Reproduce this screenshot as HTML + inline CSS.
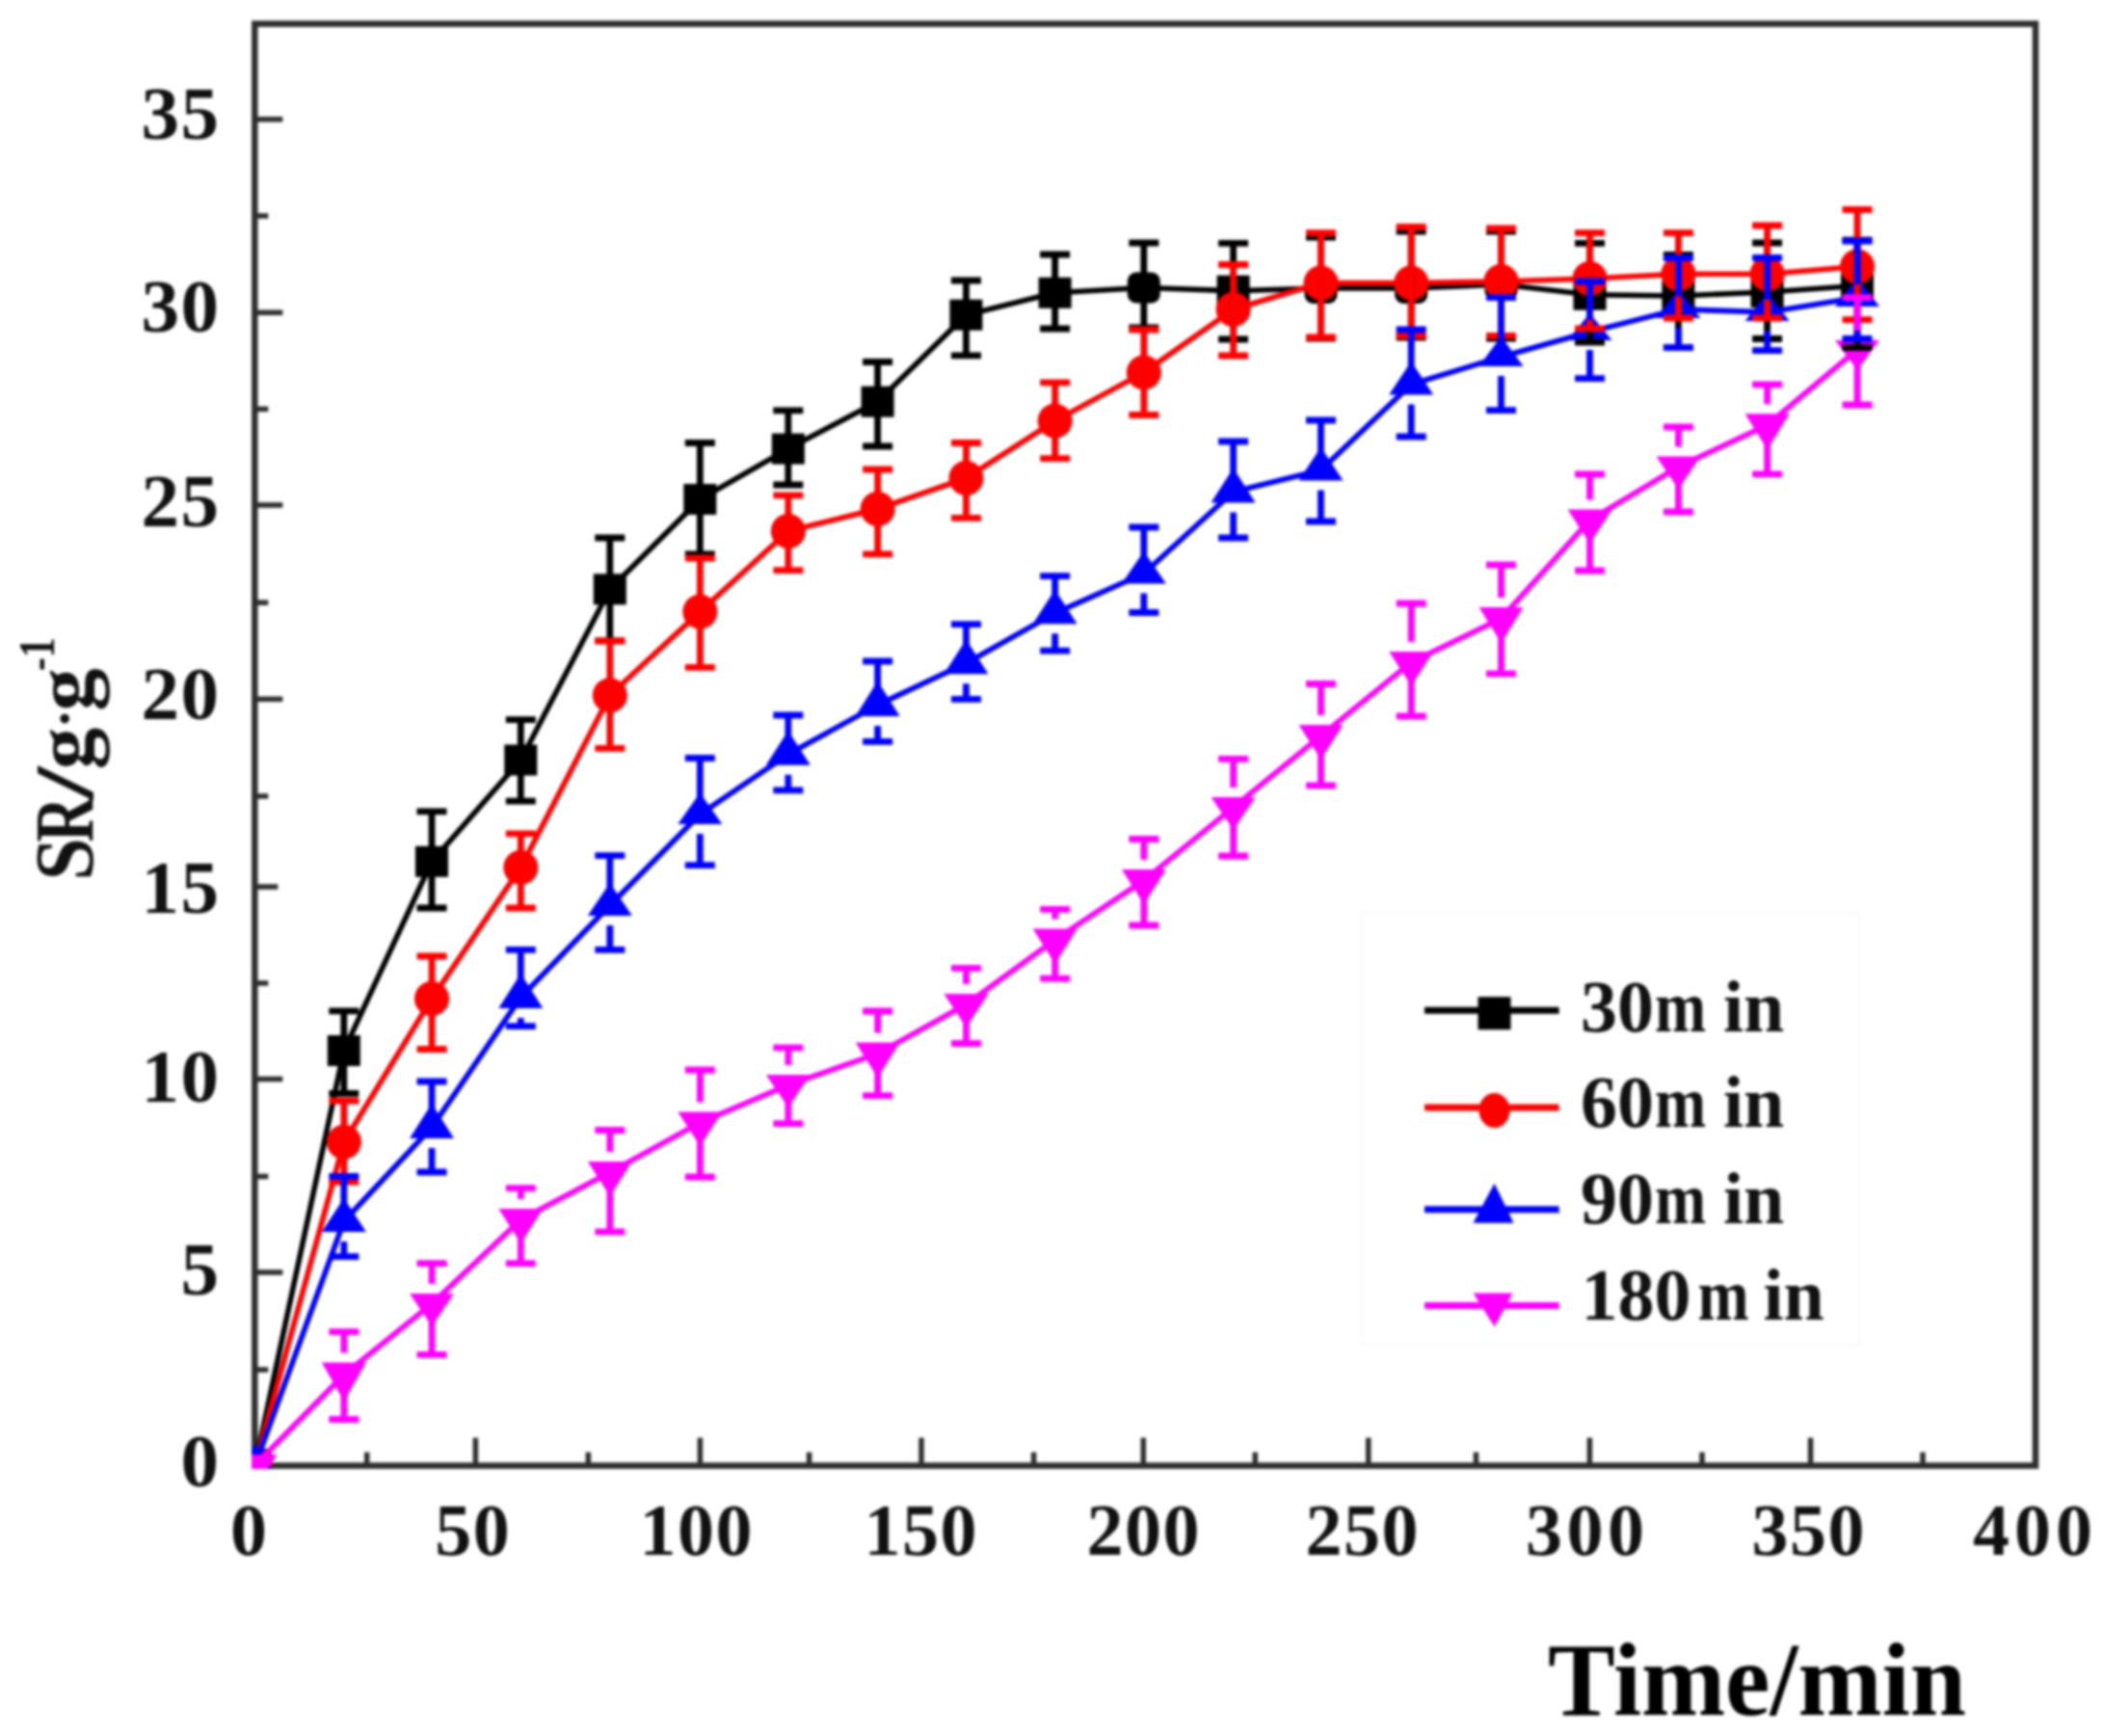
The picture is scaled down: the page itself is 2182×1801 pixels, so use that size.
<!DOCTYPE html>
<html><head><meta charset="utf-8"><title>chart</title>
<style>html,body{margin:0;padding:0;background:#fff}body{width:2182px;height:1801px;overflow:hidden}svg{display:block;filter:blur(1.7px)}</style>
</head><body>
<svg width="2182" height="1801" viewBox="0 0 2182 1801">
<rect width="2182" height="1801" fill="#fff"/>
<rect x="1413" y="947" width="516" height="448" fill="none" stroke="#f9f9f9" stroke-width="2"/>
<rect x="264.3" y="24.7" width="1847.7" height="1495.8999999999999" fill="none" stroke="#2e2e2e" stroke-width="6.5"/>
<line x1="380.7" y1="1520.6" x2="380.7" y2="1506.6" stroke="#2e2e2e" stroke-width="5.5"/>
<line x1="493.4" y1="1520.6" x2="493.4" y2="1491.6" stroke="#2e2e2e" stroke-width="5.5"/>
<line x1="610.4" y1="1520.6" x2="610.4" y2="1506.6" stroke="#2e2e2e" stroke-width="5.5"/>
<line x1="726.4" y1="1520.6" x2="726.4" y2="1491.6" stroke="#2e2e2e" stroke-width="5.5"/>
<line x1="839.6" y1="1520.6" x2="839.6" y2="1506.6" stroke="#2e2e2e" stroke-width="5.5"/>
<line x1="956" y1="1520.6" x2="956" y2="1491.6" stroke="#2e2e2e" stroke-width="5.5"/>
<line x1="1072.6" y1="1520.6" x2="1072.6" y2="1506.6" stroke="#2e2e2e" stroke-width="5.5"/>
<line x1="1186.3" y1="1520.6" x2="1186.3" y2="1491.6" stroke="#2e2e2e" stroke-width="5.5"/>
<line x1="1302.3" y1="1520.6" x2="1302.3" y2="1506.6" stroke="#2e2e2e" stroke-width="5.5"/>
<line x1="1419.8" y1="1520.6" x2="1419.8" y2="1491.6" stroke="#2e2e2e" stroke-width="5.5"/>
<line x1="1531.5" y1="1520.6" x2="1531.5" y2="1506.6" stroke="#2e2e2e" stroke-width="5.5"/>
<line x1="1649.4" y1="1520.6" x2="1649.4" y2="1491.6" stroke="#2e2e2e" stroke-width="5.5"/>
<line x1="1766" y1="1520.6" x2="1766" y2="1506.6" stroke="#2e2e2e" stroke-width="5.5"/>
<line x1="1878.6" y1="1520.6" x2="1878.6" y2="1491.6" stroke="#2e2e2e" stroke-width="5.5"/>
<line x1="1995" y1="1520.6" x2="1995" y2="1506.6" stroke="#2e2e2e" stroke-width="5.5"/>
<line x1="264.3" y1="123.8" x2="293.3" y2="123.8" stroke="#2e2e2e" stroke-width="5.5"/>
<line x1="264.3" y1="224" x2="278.3" y2="224" stroke="#2e2e2e" stroke-width="5.5"/>
<line x1="264.3" y1="324.3" x2="293.3" y2="324.3" stroke="#2e2e2e" stroke-width="5.5"/>
<line x1="264.3" y1="424.4" x2="278.3" y2="424.4" stroke="#2e2e2e" stroke-width="5.5"/>
<line x1="264.3" y1="524" x2="293.3" y2="524" stroke="#2e2e2e" stroke-width="5.5"/>
<line x1="264.3" y1="625.2" x2="278.3" y2="625.2" stroke="#2e2e2e" stroke-width="5.5"/>
<line x1="264.3" y1="725.3" x2="293.3" y2="725.3" stroke="#2e2e2e" stroke-width="5.5"/>
<line x1="264.3" y1="826" x2="278.3" y2="826" stroke="#2e2e2e" stroke-width="5.5"/>
<line x1="264.3" y1="920" x2="288.3" y2="920" stroke="#2e2e2e" stroke-width="5.5"/>
<line x1="264.3" y1="1020" x2="278.3" y2="1020" stroke="#2e2e2e" stroke-width="5.5"/>
<line x1="264.3" y1="1119.5" x2="293.3" y2="1119.5" stroke="#2e2e2e" stroke-width="5.5"/>
<line x1="264.3" y1="1220.5" x2="278.3" y2="1220.5" stroke="#2e2e2e" stroke-width="5.5"/>
<line x1="264.3" y1="1320" x2="293.3" y2="1320" stroke="#2e2e2e" stroke-width="5.5"/>
<line x1="264.3" y1="1421" x2="278.3" y2="1421" stroke="#2e2e2e" stroke-width="5.5"/>
<defs><clipPath id="pc"><rect x="261" y="21" width="1855" height="1503"/></clipPath></defs>
<g clip-path="url(#pc)">
<polyline fill="none" stroke="#000" stroke-width="5.6" stroke-linejoin="round" points="264.7,1520.0 356.8,1090.0 448.0,893.8 540.3,788.5 632.8,611.3 726.3,518.0 817.8,465.6 910.6,416.7 1002.4,326.7 1094.6,303.8 1186.8,298.5 1279.6,301.7 1370.5,299.0 1464.2,299.0 1557.5,295.0 1649.5,305.7 1741.4,307.0 1833.6,303.0 1927.0,296.5"/>
<rect x="247.7" y="1503.0" width="34" height="34" fill="#000"/>
<rect x="339.8" y="1074.0" width="34" height="32" fill="#000"/>
<rect x="431.0" y="877.8" width="34" height="32" fill="#000"/>
<rect x="523.3" y="772.5" width="34" height="32" fill="#000"/>
<rect x="615.8" y="595.3" width="34" height="32" fill="#000"/>
<rect x="709.3" y="502.0" width="34" height="32" fill="#000"/>
<rect x="800.8" y="449.6" width="34" height="32" fill="#000"/>
<rect x="893.6" y="400.7" width="34" height="32" fill="#000"/>
<rect x="985.4" y="310.7" width="34" height="32" fill="#000"/>
<rect x="1077.6" y="287.8" width="34" height="32" fill="#000"/>
<rect x="1169.8" y="282.5" width="34" height="32" rx="9" fill="#000"/>
<rect x="1262.6" y="285.7" width="34" height="32" fill="#000"/>
<rect x="1353.5" y="283.0" width="34" height="32" rx="9" fill="#000"/>
<rect x="1447.2" y="283.0" width="34" height="32" rx="9" fill="#000"/>
<rect x="1540.5" y="279.0" width="34" height="32" rx="9" fill="#000"/>
<rect x="1632.5" y="289.7" width="34" height="32" fill="#000"/>
<rect x="1724.4" y="291.0" width="34" height="32" fill="#000"/>
<rect x="1816.6" y="287.0" width="34" height="32" fill="#000"/>
<rect x="1910.0" y="280.5" width="34" height="32" fill="#000"/>
<polyline fill="none" stroke="#f00" stroke-width="5.6" stroke-linejoin="round" points="264.7,1520.0 356.8,1184.7 448.0,1036.0 540.3,899.9 632.8,721.3 726.3,634.6 817.8,551.0 910.6,528.0 1002.4,496.0 1094.6,436.6 1186.8,386.4 1279.6,321.0 1370.5,293.5 1464.2,293.5 1557.5,292.0 1649.5,289.0 1741.4,284.3 1833.6,284.3 1927.0,276.5"/>
<circle cx="264.7" cy="1520.0" r="18" fill="#f00"/>
<circle cx="356.8" cy="1184.7" r="18" fill="#f00"/>
<circle cx="448.0" cy="1036.0" r="18" fill="#f00"/>
<circle cx="540.3" cy="899.9" r="18" fill="#f00"/>
<circle cx="632.8" cy="721.3" r="18" fill="#f00"/>
<circle cx="726.3" cy="634.6" r="18" fill="#f00"/>
<circle cx="817.8" cy="551.0" r="18" fill="#f00"/>
<circle cx="910.6" cy="528.0" r="18" fill="#f00"/>
<circle cx="1002.4" cy="496.0" r="18" fill="#f00"/>
<circle cx="1094.6" cy="436.6" r="18" fill="#f00"/>
<circle cx="1186.8" cy="386.4" r="18" fill="#f00"/>
<circle cx="1279.6" cy="321.0" r="18" fill="#f00"/>
<circle cx="1370.5" cy="293.5" r="18" fill="#f00"/>
<circle cx="1464.2" cy="293.5" r="18" fill="#f00"/>
<circle cx="1557.5" cy="292.0" r="18" fill="#f00"/>
<circle cx="1649.5" cy="289.0" r="18" fill="#f00"/>
<circle cx="1741.4" cy="284.3" r="18" fill="#f00"/>
<circle cx="1833.6" cy="284.3" r="18" fill="#f00"/>
<circle cx="1927.0" cy="276.5" r="18" fill="#f00"/>
<polyline fill="none" stroke="#00f" stroke-width="5.6" stroke-linejoin="round" points="264.7,1520.0 356.8,1267.0 448.0,1169.7 540.3,1034.7 632.8,939.3 726.3,844.8 817.8,782.5 910.6,731.4 1002.4,688.0 1094.6,636.1 1186.8,595.0 1279.6,510.2 1370.5,487.7 1464.2,398.7 1557.5,370.3 1649.5,344.3 1741.4,320.9 1833.6,323.9 1927.0,308.7"/>
<path d="M264.7 1498.0L287.7 1531.0H241.7Z" fill="#00f"/>
<path d="M356.8 1243.0L379.8 1278.0H333.8Z" fill="#00f"/>
<path d="M448.0 1145.0L471.0 1181.0H425.0Z" fill="#00f"/>
<path d="M540.3 1010.0L563.3 1046.0H517.3Z" fill="#00f"/>
<path d="M632.8 916.0L655.8 950.0H609.8Z" fill="#00f"/>
<path d="M726.3 822.4L749.3 855.0H703.3Z" fill="#00f"/>
<path d="M817.8 758.0L840.8 793.8H794.8Z" fill="#00f"/>
<path d="M910.6 706.4L933.6 742.9H887.6Z" fill="#00f"/>
<path d="M1002.4 663.6L1025.4 699.2H979.4Z" fill="#00f"/>
<path d="M1094.6 611.7L1117.6 647.3H1071.6Z" fill="#00f"/>
<path d="M1186.8 572.0L1209.8 605.5H1163.8Z" fill="#00f"/>
<path d="M1279.6 485.5L1302.6 521.5H1256.6Z" fill="#00f"/>
<path d="M1370.5 464.0L1393.5 498.5H1347.5Z" fill="#00f"/>
<path d="M1464.2 375.0L1487.2 409.5H1441.2Z" fill="#00f"/>
<path d="M1557.5 349.0L1580.5 380.0H1534.5Z" fill="#00f"/>
<path d="M1649.5 325.0L1672.5 353.0H1626.5Z" fill="#00f"/>
<path d="M1741.4 300.6L1764.4 330.0H1718.4Z" fill="#00f"/>
<path d="M1833.6 303.7L1856.6 333.0H1810.6Z" fill="#00f"/>
<path d="M1927.0 288.0L1950.0 318.0H1904.0Z" fill="#00f"/>
<polyline fill="none" stroke="#f0f" stroke-width="5.6" stroke-linejoin="round" points="264.7,1520.0 356.8,1426.3 448.0,1352.6 540.3,1265.3 632.8,1216.3 726.3,1164.6 817.8,1125.7 910.6,1093.1 1002.4,1042.0 1094.6,975.0 1186.8,913.3 1279.6,837.7 1370.5,763.3 1464.2,687.1 1557.5,641.7 1649.5,539.7 1741.4,484.3 1833.6,441.0 1927.0,362.7"/>
<path d="M241.7 1509.0H287.7L264.7 1542.0Z" fill="#f0f"/>
<path d="M333.8 1413.6H379.8L356.8 1453.8Z" fill="#f0f"/>
<path d="M425.0 1341.9H471.0L448.0 1376.0Z" fill="#f0f"/>
<path d="M517.3 1254.0H563.3L540.3 1290.0Z" fill="#f0f"/>
<path d="M609.8 1205.0H655.8L632.8 1241.0Z" fill="#f0f"/>
<path d="M703.3 1153.4H749.3L726.3 1189.0Z" fill="#f0f"/>
<path d="M794.8 1115.0H840.8L817.8 1149.0Z" fill="#f0f"/>
<path d="M887.6 1081.6H933.6L910.6 1118.0Z" fill="#f0f"/>
<path d="M979.4 1031.0H1025.4L1002.4 1066.0Z" fill="#f0f"/>
<path d="M1071.6 963.5H1117.6L1094.6 1000.0Z" fill="#f0f"/>
<path d="M1163.8 902.0H1209.8L1186.8 938.0Z" fill="#f0f"/>
<path d="M1256.6 827.0H1302.6L1279.6 861.0Z" fill="#f0f"/>
<path d="M1347.5 752.0H1393.5L1370.5 787.8Z" fill="#f0f"/>
<path d="M1441.2 675.9H1487.2L1464.2 711.5Z" fill="#f0f"/>
<path d="M1534.5 630.0H1580.5L1557.5 667.0Z" fill="#f0f"/>
<path d="M1626.5 528.5H1672.5L1649.5 564.0Z" fill="#f0f"/>
<path d="M1718.4 473.6H1764.4L1741.4 507.6Z" fill="#f0f"/>
<path d="M1810.6 429.3H1856.6L1833.6 466.4Z" fill="#f0f"/>
<path d="M1904.0 353.0H1950.0L1927.0 384.0Z" fill="#f0f"/>
<path d="M356.8 1048.8V1134.3M341.3 1048.8H372.3M341.3 1134.3H372.3" stroke="#000" stroke-width="6.8" fill="none"/>
<path d="M448.0 841.9V942.0M432.5 841.9H463.5M432.5 942.0H463.5" stroke="#000" stroke-width="6.8" fill="none"/>
<path d="M540.3 746.6V831.2M524.8 746.6H555.8M524.8 831.2H555.8" stroke="#000" stroke-width="6.8" fill="none"/>
<path d="M632.8 558.0V664.8M617.3 558.0H648.3M617.3 664.8H648.3" stroke="#000" stroke-width="6.8" fill="none"/>
<path d="M726.3 459.5V574.8M710.8 459.5H741.8M710.8 574.8H741.8" stroke="#000" stroke-width="6.8" fill="none"/>
<path d="M817.8 425.9V503.0M802.3 425.9H833.3M802.3 503.0H833.3" stroke="#000" stroke-width="6.8" fill="none"/>
<path d="M910.6 375.5V463.0M895.1 375.5H926.1M895.1 463.0H926.1" stroke="#000" stroke-width="6.8" fill="none"/>
<path d="M1002.4 291.0V368.8M986.9 291.0H1017.9M986.9 368.8H1017.9" stroke="#000" stroke-width="6.8" fill="none"/>
<path d="M1094.6 264.0V341.0M1079.1 264.0H1110.1M1079.1 341.0H1110.1" stroke="#000" stroke-width="6.8" fill="none"/>
<path d="M1186.8 252.0V340.0M1171.3 252.0H1202.3M1171.3 340.0H1202.3" stroke="#000" stroke-width="6.8" fill="none"/>
<path d="M1279.6 252.3V352.0M1264.1 252.3H1295.1M1264.1 352.0H1295.1" stroke="#000" stroke-width="6.8" fill="none"/>
<path d="M1370.5 246.0V351.0M1355.0 246.0H1386.0M1355.0 351.0H1386.0" stroke="#000" stroke-width="6.8" fill="none"/>
<path d="M1464.2 240.0V350.0M1448.7 240.0H1479.7M1448.7 350.0H1479.7" stroke="#000" stroke-width="6.8" fill="none"/>
<path d="M1557.5 240.0V351.0M1542.0 240.0H1573.0M1542.0 351.0H1573.0" stroke="#000" stroke-width="6.8" fill="none"/>
<path d="M1649.5 252.3V355.0M1634.0 252.3H1665.0M1634.0 355.0H1665.0" stroke="#000" stroke-width="6.8" fill="none"/>
<path d="M1741.4 264.5V360.6M1725.9 264.5H1756.9M1725.9 360.6H1756.9" stroke="#000" stroke-width="6.8" fill="none"/>
<path d="M1833.6 252.0V351.5M1818.1 252.0H1849.1M1818.1 351.5H1849.1" stroke="#000" stroke-width="6.8" fill="none"/>
<path d="M1927.0 249.2V360.6M1911.5 249.2H1942.5M1911.5 360.6H1942.5" stroke="#000" stroke-width="6.8" fill="none"/>
<path d="M356.8 1142.0V1226.0M341.3 1142.0H372.3M341.3 1226.0H372.3" stroke="#f00" stroke-width="6.8" fill="none"/>
<path d="M448.0 992.0V1088.5M432.5 992.0H463.5M432.5 1088.5H463.5" stroke="#f00" stroke-width="6.8" fill="none"/>
<path d="M540.3 864.8V942.0M524.8 864.8H555.8M524.8 942.0H555.8" stroke="#f00" stroke-width="6.8" fill="none"/>
<path d="M632.8 664.8V776.3M617.3 664.8H648.3M617.3 776.3H648.3" stroke="#f00" stroke-width="6.8" fill="none"/>
<path d="M726.3 579.0V692.4M710.8 579.0H741.8M710.8 692.4H741.8" stroke="#f00" stroke-width="6.8" fill="none"/>
<path d="M817.8 513.8V591.6M802.3 513.8H833.3M802.3 591.6H833.3" stroke="#f00" stroke-width="6.8" fill="none"/>
<path d="M910.6 487.0V574.8M895.1 487.0H926.1M895.1 574.8H926.1" stroke="#f00" stroke-width="6.8" fill="none"/>
<path d="M1002.4 459.5V537.3M986.9 459.5H1017.9M986.9 537.3H1017.9" stroke="#f00" stroke-width="6.8" fill="none"/>
<path d="M1094.6 396.9V475.6M1079.1 396.9H1110.1M1079.1 475.6H1110.1" stroke="#f00" stroke-width="6.8" fill="none"/>
<path d="M1186.8 342.0V430.5M1171.3 342.0H1202.3M1171.3 430.5H1202.3" stroke="#f00" stroke-width="6.8" fill="none"/>
<path d="M1279.6 274.5V369.0M1264.1 274.5H1295.1M1264.1 369.0H1295.1" stroke="#f00" stroke-width="6.8" fill="none"/>
<path d="M1370.5 241.6V350.0M1355.0 241.6H1386.0M1355.0 350.0H1386.0" stroke="#f00" stroke-width="6.8" fill="none"/>
<path d="M1464.2 235.5V348.4M1448.7 235.5H1479.7M1448.7 348.4H1479.7" stroke="#f00" stroke-width="6.8" fill="none"/>
<path d="M1557.5 237.0V348.4M1542.0 237.0H1573.0M1542.0 348.4H1573.0" stroke="#f00" stroke-width="6.8" fill="none"/>
<path d="M1649.5 241.6V340.8M1634.0 241.6H1665.0M1634.0 340.8H1665.0" stroke="#f00" stroke-width="6.8" fill="none"/>
<path d="M1741.4 241.6V330.0M1725.9 241.6H1756.9M1725.9 330.0H1756.9" stroke="#f00" stroke-width="6.8" fill="none"/>
<path d="M1833.6 234.0V330.0M1818.1 234.0H1849.1M1818.1 330.0H1849.1" stroke="#f00" stroke-width="6.8" fill="none"/>
<path d="M1927.0 217.5V331.6M1911.5 217.5H1942.5M1911.5 331.6H1942.5" stroke="#f00" stroke-width="6.8" fill="none"/>
<path d="M356.8 1220.4V1250.0M356.8 1288.0V1303.7M341.3 1220.4H372.3M341.3 1303.7H372.3" stroke="#00f" stroke-width="6.8" fill="none"/>
<path d="M448.0 1122.0V1152.0M448.0 1191.0V1216.0M432.5 1122.0H463.5M432.5 1216.0H463.5" stroke="#00f" stroke-width="6.8" fill="none"/>
<path d="M540.3 985.3V1017.0M540.3 1056.0V1064.7M524.8 985.3H555.8M524.8 1064.7H555.8" stroke="#00f" stroke-width="6.8" fill="none"/>
<path d="M632.8 887.7V923.0M632.8 960.0V985.3M617.3 887.7H648.3M617.3 985.3H648.3" stroke="#00f" stroke-width="6.8" fill="none"/>
<path d="M726.3 786.5V829.4M726.3 865.0V897.6M710.8 786.5H741.8M710.8 897.6H741.8" stroke="#00f" stroke-width="6.8" fill="none"/>
<path d="M817.8 742.0V765.0M817.8 803.8V819.8M802.3 742.0H833.3M802.3 819.8H833.3" stroke="#00f" stroke-width="6.8" fill="none"/>
<path d="M910.6 686.0V713.4M910.6 752.9V769.4M895.1 686.0H926.1M895.1 769.4H926.1" stroke="#00f" stroke-width="6.8" fill="none"/>
<path d="M1002.4 647.6V670.6M1002.4 709.2V725.3M986.9 647.6H1017.9M986.9 725.3H1017.9" stroke="#00f" stroke-width="6.8" fill="none"/>
<path d="M1094.6 597.7V618.7M1094.6 657.3V675.2M1079.1 597.7H1110.1M1079.1 675.2H1110.1" stroke="#00f" stroke-width="6.8" fill="none"/>
<path d="M1186.8 547.0V579.0M1186.8 615.5V635.5M1171.3 547.0H1202.3M1171.3 635.5H1202.3" stroke="#00f" stroke-width="6.8" fill="none"/>
<path d="M1279.6 458.0V492.5M1279.6 531.5V558.0M1264.1 458.0H1295.1M1264.1 558.0H1295.1" stroke="#00f" stroke-width="6.8" fill="none"/>
<path d="M1370.5 436.0V471.0M1370.5 508.5V541.0M1355.0 436.0H1386.0M1355.0 541.0H1386.0" stroke="#00f" stroke-width="6.8" fill="none"/>
<path d="M1464.2 342.0V382.0M1464.2 419.5V453.0M1448.7 342.0H1479.7M1448.7 453.0H1479.7" stroke="#00f" stroke-width="6.8" fill="none"/>
<path d="M1557.5 308.7V356.0M1557.5 390.0V425.6M1542.0 308.7H1573.0M1542.0 425.6H1573.0" stroke="#00f" stroke-width="6.8" fill="none"/>
<path d="M1649.5 292.0V332.0M1649.5 363.0V392.7M1634.0 292.0H1665.0M1634.0 392.7H1665.0" stroke="#00f" stroke-width="6.8" fill="none"/>
<path d="M1741.4 267.5V307.6M1741.4 340.0V360.6M1725.9 267.5H1756.9M1725.9 360.6H1756.9" stroke="#00f" stroke-width="6.8" fill="none"/>
<path d="M1833.6 267.5V310.7M1833.6 343.0V363.7M1818.1 267.5H1849.1M1818.1 363.7H1849.1" stroke="#00f" stroke-width="6.8" fill="none"/>
<path d="M1927.0 250.0V295.0M1927.0 328.0V351.5M1911.5 250.0H1942.5M1911.5 351.5H1942.5" stroke="#00f" stroke-width="6.8" fill="none"/>
<path d="M356.8 1381.6V1403.6M356.8 1446.8V1472.5M341.3 1381.6H372.3M341.3 1472.5H372.3" stroke="#f0f" stroke-width="6.8" fill="none"/>
<path d="M448.0 1310.7V1331.9M448.0 1369.0V1405.4M432.5 1310.7H463.5M432.5 1405.4H463.5" stroke="#f0f" stroke-width="6.8" fill="none"/>
<path d="M540.3 1232.6V1244.0M540.3 1283.0V1310.7M524.8 1232.6H555.8M524.8 1310.7H555.8" stroke="#f0f" stroke-width="6.8" fill="none"/>
<path d="M632.8 1172.5V1195.0M632.8 1234.0V1277.8M617.3 1172.5H648.3M617.3 1277.8H648.3" stroke="#f0f" stroke-width="6.8" fill="none"/>
<path d="M726.3 1110.0V1143.4M726.3 1182.0V1221.0M710.8 1110.0H741.8M710.8 1221.0H741.8" stroke="#f0f" stroke-width="6.8" fill="none"/>
<path d="M817.8 1086.8V1105.0M817.8 1142.0V1165.6M802.3 1086.8H833.3M802.3 1165.6H833.3" stroke="#f0f" stroke-width="6.8" fill="none"/>
<path d="M910.6 1049.0V1071.6M910.6 1111.0V1136.6M895.1 1049.0H926.1M895.1 1136.6H926.1" stroke="#f0f" stroke-width="6.8" fill="none"/>
<path d="M1002.4 1004.4V1021.0M1002.4 1059.0V1082.5M986.9 1004.4H1017.9M986.9 1082.5H1017.9" stroke="#f0f" stroke-width="6.8" fill="none"/>
<path d="M1094.6 943.3V953.5M1094.6 993.0V1015.2M1079.1 943.3H1110.1M1079.1 1015.2H1110.1" stroke="#f0f" stroke-width="6.8" fill="none"/>
<path d="M1186.8 870.5V892.0M1186.8 931.0V960.0M1171.3 870.5H1202.3M1171.3 960.0H1202.3" stroke="#f0f" stroke-width="6.8" fill="none"/>
<path d="M1279.6 787.3V817.0M1279.6 854.0V888.0M1264.1 787.3H1295.1M1264.1 888.0H1295.1" stroke="#f0f" stroke-width="6.8" fill="none"/>
<path d="M1370.5 709.5V742.0M1370.5 780.8V814.8M1355.0 709.5H1386.0M1355.0 814.8H1386.0" stroke="#f0f" stroke-width="6.8" fill="none"/>
<path d="M1464.2 626.0V665.9M1464.2 704.5V743.0M1448.7 626.0H1479.7M1448.7 743.0H1479.7" stroke="#f0f" stroke-width="6.8" fill="none"/>
<path d="M1557.5 586.0V620.0M1557.5 660.0V698.8M1542.0 586.0H1573.0M1542.0 698.8H1573.0" stroke="#f0f" stroke-width="6.8" fill="none"/>
<path d="M1649.5 492.0V518.5M1649.5 557.0V592.0M1634.0 492.0H1665.0M1634.0 592.0H1665.0" stroke="#f0f" stroke-width="6.8" fill="none"/>
<path d="M1741.4 443.0V463.6M1741.4 500.6V531.0M1725.9 443.0H1756.9M1725.9 531.0H1756.9" stroke="#f0f" stroke-width="6.8" fill="none"/>
<path d="M1833.6 398.8V419.3M1833.6 459.4V491.9M1818.1 398.8H1849.1M1818.1 491.9H1849.1" stroke="#f0f" stroke-width="6.8" fill="none"/>
<path d="M1927.0 308.7V343.0M1927.0 377.0V420.0M1911.5 308.7H1942.5M1911.5 420.0H1942.5" stroke="#f0f" stroke-width="6.8" fill="none"/>
</g>
<text x="258.75" y="1613" font-size="76" font-family="Liberation Serif, serif" font-weight="bold" text-anchor="middle" fill="#111" letter-spacing="1.5">0</text>
<text x="490.75" y="1613" font-size="76" font-family="Liberation Serif, serif" font-weight="bold" text-anchor="middle" fill="#111" letter-spacing="1.5">50</text>
<text x="722.75" y="1613" font-size="76" font-family="Liberation Serif, serif" font-weight="bold" text-anchor="middle" fill="#111" letter-spacing="1.5">100</text>
<text x="955.75" y="1613" font-size="76" font-family="Liberation Serif, serif" font-weight="bold" text-anchor="middle" fill="#111" letter-spacing="1.5">150</text>
<text x="1186.75" y="1613" font-size="76" font-family="Liberation Serif, serif" font-weight="bold" text-anchor="middle" fill="#111" letter-spacing="1.5">200</text>
<text x="1413.75" y="1613" font-size="76" font-family="Liberation Serif, serif" font-weight="bold" text-anchor="middle" fill="#111" letter-spacing="1.5">250</text>
<text x="1646.65" y="1613" font-size="76" font-family="Liberation Serif, serif" font-weight="bold" text-anchor="middle" fill="#111" letter-spacing="4.5">300</text>
<text x="1876.75" y="1613" font-size="76" font-family="Liberation Serif, serif" font-weight="bold" text-anchor="middle" fill="#111" letter-spacing="1.5">350</text>
<text x="2111.5" y="1613" font-size="76" font-family="Liberation Serif, serif" font-weight="bold" text-anchor="middle" fill="#111" letter-spacing="5">400</text>
<text x="228.5" y="143.5" font-size="79" font-family="Liberation Serif, serif" font-weight="bold" text-anchor="end" fill="#111" letter-spacing="1.5">35</text>
<text x="228.5" y="344" font-size="79" font-family="Liberation Serif, serif" font-weight="bold" text-anchor="end" fill="#111" letter-spacing="1.5">30</text>
<text x="228.5" y="546" font-size="79" font-family="Liberation Serif, serif" font-weight="bold" text-anchor="end" fill="#111" letter-spacing="1.5">25</text>
<text x="228.5" y="745.5" font-size="79" font-family="Liberation Serif, serif" font-weight="bold" text-anchor="end" fill="#111" letter-spacing="1.5">20</text>
<text x="228.5" y="946.5" font-size="79" font-family="Liberation Serif, serif" font-weight="bold" text-anchor="end" fill="#111" letter-spacing="1.5">15</text>
<text x="228.5" y="1143" font-size="79" font-family="Liberation Serif, serif" font-weight="bold" text-anchor="end" fill="#111" letter-spacing="1.5">10</text>
<text x="228.5" y="1343" font-size="79" font-family="Liberation Serif, serif" font-weight="bold" text-anchor="end" fill="#111" letter-spacing="1.5">5</text>
<text x="228.5" y="1541.5" font-size="79" font-family="Liberation Serif, serif" font-weight="bold" text-anchor="end" fill="#111" letter-spacing="1.5">0</text>
<text x="1606" y="1779" font-size="108" font-family="Liberation Serif, serif" font-weight="bold" fill="#000" textLength="434" lengthAdjust="spacingAndGlyphs">Time/min</text>
<text transform="translate(96,0) rotate(-90)" font-family="Liberation Serif, serif" font-weight="bold" fill="#111"><tspan x="-913.6" y="0" font-size="87" textLength="44.03" lengthAdjust="spacingAndGlyphs">S</tspan><tspan x="-873.4" y="0" font-size="87" textLength="46.87" lengthAdjust="spacingAndGlyphs">R</tspan><tspan x="-829.2" y="0" font-size="87" textLength="34.08" lengthAdjust="spacingAndGlyphs">/</tspan><tspan x="-798.3" y="0" font-size="85" textLength="43.5" lengthAdjust="spacingAndGlyphs">g</tspan><tspan x="-755.4" y="-9.1" font-size="60" textLength="20.0" lengthAdjust="spacingAndGlyphs">·</tspan><tspan x="-737.7" y="0" font-size="85" textLength="44.67" lengthAdjust="spacingAndGlyphs">g</tspan><tspan x="-696" y="-40.2" font-size="52" textLength="34.65" lengthAdjust="spacingAndGlyphs">-1</tspan></text>
<line x1="1478" y1="1048.2" x2="1617.6" y2="1048.2" stroke="#000" stroke-width="7"/>
<rect x="1533.5" y="1034.2" width="34" height="34" fill="#000"/>
<text x="1640" y="1069.8" font-size="76" font-family="Liberation Serif, serif" font-weight="bold" fill="#111">30<tspan x="1717" textLength="53.2" lengthAdjust="spacingAndGlyphs">m</tspan><tspan x="1769"> in</tspan></text>
<line x1="1478" y1="1149" x2="1617.6" y2="1149" stroke="#f00" stroke-width="7"/>
<ellipse cx="1550.5" cy="1152" rx="16" ry="18" fill="#f00"/>
<text x="1640" y="1169" font-size="76" font-family="Liberation Serif, serif" font-weight="bold" fill="#111">60<tspan x="1717" textLength="53.2" lengthAdjust="spacingAndGlyphs">m</tspan><tspan x="1769"> in</tspan></text>
<line x1="1478" y1="1254.7" x2="1617.6" y2="1254.7" stroke="#00f" stroke-width="7"/>
<path d="M1550.5 1227.7L1570.5 1268.7H1528.5Z" fill="#00f"/>
<text x="1640" y="1268.5" font-size="76" font-family="Liberation Serif, serif" font-weight="bold" fill="#111">90<tspan x="1717" textLength="53.2" lengthAdjust="spacingAndGlyphs">m</tspan><tspan x="1769"> in</tspan></text>
<line x1="1478" y1="1354.4" x2="1617.6" y2="1354.4" stroke="#f0f" stroke-width="7"/>
<path d="M1528.5 1341.4H1569.5L1550.5 1376.4Z" fill="#f0f"/>
<text x="1640.5" y="1369.3" font-size="76" font-family="Liberation Serif, serif" font-weight="bold" fill="#111">180<tspan x="1761.5" textLength="53.2" lengthAdjust="spacingAndGlyphs">m</tspan><tspan x="1810.5"> in</tspan></text>
</svg>
</body></html>
